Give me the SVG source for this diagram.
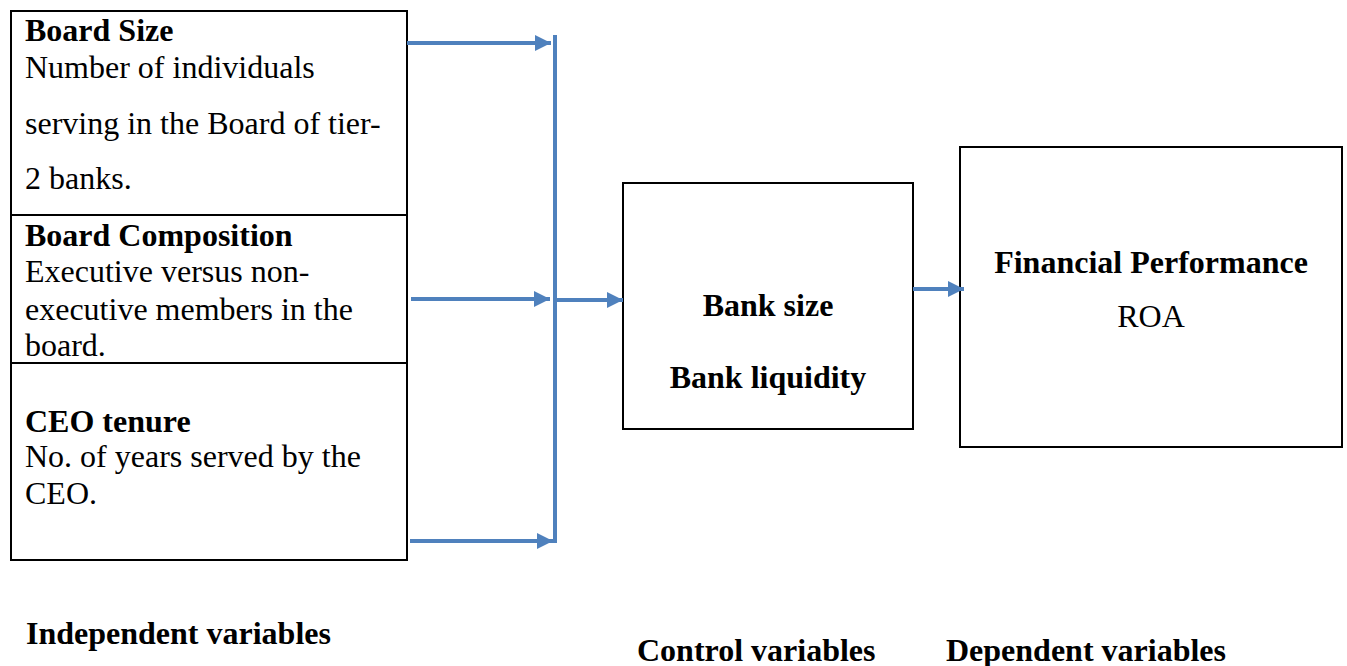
<svg xmlns="http://www.w3.org/2000/svg" width="1347" height="666" viewBox="0 0 1347 666">
<style>
.box{fill:#fff;stroke:#000;stroke-width:2}
.t{font-family:"Liberation Serif","Times New Roman",serif;font-size:32px;fill:#000}
.b{font-weight:bold}
.c{text-anchor:middle}
.ln{stroke:#4F81BD;stroke-width:4;fill:none}
</style>
<defs>
<marker id="ah" markerUnits="userSpaceOnUse" markerWidth="18" markerHeight="18" refX="16" refY="8" orient="auto" viewBox="0 0 18 18">
<path d="M0,0 L16,8 L0,16 Z" fill="#4F81BD"/>
</marker>
</defs>
<rect width="1347" height="666" fill="#fff"/>
<g id="independent">
<rect class="box" x="11" y="11" width="396" height="549"/>
<line x1="11" y1="215" x2="407" y2="215" stroke="#000" stroke-width="2"/>
<line x1="11" y1="363" x2="407" y2="363" stroke="#000" stroke-width="2"/>
<text class="t b" x="25" y="41">Board Size</text>
<text class="t" x="25" y="78">Number of individuals</text>
<text class="t" x="25" y="134">serving in the Board of tier-</text>
<text class="t" x="25" y="189">2 banks.</text>
<text class="t b" x="25" y="246">Board Composition</text>
<text class="t" x="25" y="282">Executive versus non-</text>
<text class="t" x="25" y="320">executive members in the</text>
<text class="t" x="25" y="356">board.</text>
<text class="t b" x="25" y="432">CEO tenure</text>
<text class="t" x="25" y="467">No. of years served by the</text>
<text class="t" x="25" y="504">CEO.</text>
</g>
<g id="control">
<rect class="box" x="623" y="183" width="290" height="246"/>
<text class="t b c" x="768" y="316">Bank size</text>
<text class="t b c" x="768" y="388">Bank liquidity</text>
</g>
<g id="dependent">
<rect class="box" x="960" y="147" width="382" height="300"/>
<text class="t b c" x="1151" y="273">Financial Performance</text>
<text class="t c" x="1151" y="327">ROA</text>
</g>
<g id="labels">
<text class="t b" x="26" y="644">Independent variables</text>
<text class="t b" x="637" y="661">Control variables</text>
<text class="t b" x="946" y="661">Dependent variables</text>
</g>
<g id="connectors">
<line class="ln" x1="407" y1="43" x2="551" y2="43" marker-end="url(#ah)"/>
<line class="ln" x1="411" y1="299" x2="550" y2="299" marker-end="url(#ah)"/>
<line class="ln" x1="410" y1="541" x2="553" y2="541" marker-end="url(#ah)"/>
<line class="ln" x1="555" y1="35" x2="555" y2="543"/>
<line class="ln" x1="555" y1="300" x2="623" y2="300" marker-end="url(#ah)"/>
<line class="ln" x1="913" y1="289" x2="964" y2="289" marker-end="url(#ah)"/>
</g>
</svg>
